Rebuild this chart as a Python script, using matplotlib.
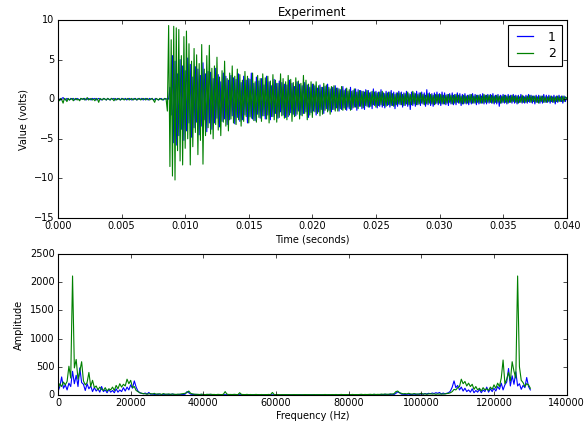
"""Experiment — two-channel time trace (top) and its amplitude spectrum (bottom)."""
import numpy as np
import matplotlib
matplotlib.use("Agg")
import matplotlib.pyplot as plt

# ---- time trace, volts, one sample every 0.1 ms from 0 to 0.04 s ----
T_END = 0.04
volts_1 = [
    0.1, 0.0, -0.1, 0.1, 0.2, 0.0, -0.1, 0.1, 0.0, -0.1, 0.1, 0.0, 0.1, -0.1, 0.0, 0.1, 0.0, -0.1, 0.1, 0.0,
    0.0, 0.1, -0.1, 0.0, 0.1, 0.0, -0.1, 0.1, 0.0, 0.1, -0.1, 0.0, 0.1, 0.0, -0.1, 0.0, 0.1, 0.0, -0.1, 0.1,
    0.0, -0.1, 0.1, 0.0, 0.1, -0.1, 0.0, 0.1, 0.0, -0.1, 0.1, 0.0, 0.0, 0.1, -0.1, 0.0, 0.1, 0.0, -0.1, 0.0,
    0.1, 0.0, -0.1, 0.1, 0.0, 0.0, 0.1, -0.1, 0.0, 0.1, 0.0, -0.1, 0.1, 0.0, 0.1, -0.1, 0.0, 0.1, 0.0, -0.1,
    0.0, 0.1, 0.0, -0.1, 0.1, 0.0, 0.1, 0.0, 1.5, -2.0, 5.5, -5.5, 4.8, -5.8, 3.2, -4.6, 5.0, -3.8, 4.2, -5.2,
    3.6, -4.0, 5.2, -3.0, 4.4, -4.8, 2.8, -3.6, 4.1, -2.9, 3.8, -4.5, 3.0, -3.4, 4.6, -2.6, 3.2, -4.1, 3.5, -3.0,
    3.4, -3.8, 2.6, -3.0, 3.9, -2.4, 3.1, -3.5, 2.2, -2.8, 3.3, -2.5, 2.9, -3.2, 2.4, -2.6, 3.0, -2.1, 2.7, -3.1,
    2.5, -2.3, 3.2, -2.8, 2.1, -2.6, 2.9, -2.0, 2.4, -3.0, 2.6, -2.2, 3.3, -2.5, 2.0, -2.7, 2.8, -1.9, 2.3, -2.4,
    2.6, -2.1, 1.8, -2.5, 2.9, -2.0, 2.2, -2.6, 1.7, -2.2, 2.5, -1.8, 2.0, -2.4, 2.3, -1.6, 2.1, -2.0, 1.9, -2.3,
    1.8, -2.2, 2.4, -1.7, 2.0, -1.9, 1.6, -2.1, 2.2, -1.5, 1.9, -2.0, 1.7, -1.8, 2.1, -1.6, 1.8, -2.3, 1.5, -1.7,
    1.9, -1.5, 1.7, -2.0, 1.4, -1.6, 1.8, -1.3, 1.5, -1.8, 1.6, -1.2, 1.9, -1.4, 1.3, -1.6, 1.5, -1.3, 1.7, -1.1,
    1.4, -1.5, 1.2, -1.3, 1.6, -1.1, 1.3, -1.4, 1.0, -1.2, 1.5, -1.3, 1.1, -1.0, 1.3, -1.4, 1.2, -0.9, 1.1, -1.2,
    1.0, -1.3, 1.2, -0.9, 1.1, -1.0, 0.9, -1.2, 1.3, -0.8, 1.0, -1.1, 0.9, -0.9, 1.2, -1.0, 0.8, -1.1, 1.0, -0.8,
    0.9, -1.0, 1.1, -0.8, 0.9, -1.2, 0.8, -0.9, 1.0, -0.7, 0.9, -1.0, 0.8, -0.8, 1.0, -0.9, 0.7, -1.3, 0.9, -0.8,
    0.8, -0.9, 1.0, -0.7, 0.8, -0.8, 0.9, -0.6, 0.8, -0.9, 1.2, -0.7, 0.8, -0.8, 0.7, -0.9, 0.8, -0.6, 0.9, -0.7,
    0.7, -0.8, 0.9, -0.6, 0.8, -0.7, 0.6, -0.8, 0.7, -0.6, 0.8, -0.7, 0.6, -0.7, 0.8, -0.5, 0.7, -0.8, 0.6, -0.6,
    0.7, -0.6, 0.5, -0.7, 0.6, -0.6, 0.7, -0.5, 0.6, -0.7, 0.5, -0.6, 0.6, -0.5, 0.7, -0.6, 0.5, -0.6, 0.6, -0.5,
    0.6, -0.5, 0.7, -0.6, 0.5, -0.6, 0.6, -0.9, 0.5, -0.5, 0.6, -0.5, 0.5, -0.6, 0.6, -0.4, 0.5, -0.5, 0.6, -0.5,
    0.5, -0.6, 0.5, -0.4, 0.6, -0.5, 0.4, -0.5, 0.5, -0.5, 0.6, -0.4, 0.5, -0.5, 0.4, -0.6, 0.5, -0.4, 0.5, -0.5,
    0.4, -0.5, 0.6, -0.4, 0.5, -0.4, 0.5, -0.5, 0.4, -0.4, 0.5, -0.6, 0.4, -0.4, 0.5, -0.3, 0.4, -0.5, 0.4, -0.3,
    0.2,
]
volts_2 = [
    0.0, -0.2, 0.1, -0.1, -0.5, 0.1, 0.0, -0.3, 0.1, -0.1, 0.0, 0.1, -0.2, 0.0, 0.1, -0.1, 0.0, -0.2, 0.1, 0.0,
    0.1, -0.1, 0.0, 0.2, -0.1, 0.0, 0.1, -0.1, 0.0, -0.2, 0.1, 0.0, -0.4, 0.1, 0.0, -0.1, 0.1, 0.0, -0.1, 0.1,
    0.0, -0.1, 0.1, 0.0, -0.2, 0.1, -0.1, 0.0, 0.1, -0.1, 0.0, 0.1, -0.1, 0.0, 0.0, 0.1, -0.1, 0.0, 0.1, -0.1,
    0.0, 0.1, -0.1, 0.0, 0.1, -0.1, 0.0, 0.1, 0.0, -0.1, 0.1, 0.0, -0.1, 0.0, 0.1, -0.1, -0.4, 0.1, 0.0, -0.1,
    0.1, 0.0, -0.1, 0.0, 0.1, 0.0, -1.5, 9.3, -8.5, 7.5, -9.7, 9.2, -10.2, 9.0, -6.5, 8.8, -7.8, 5.5, -8.3, 7.9,
    -6.2, 8.6, -5.0, 7.0, -8.3, 4.8, -6.0, 6.4, -4.2, 5.6, -7.0, 4.5, -5.2, 6.9, -8.2, 3.8, -4.6, 5.5, -3.6, 6.8,
    -4.4, 3.9, -5.0, 4.2, -3.2, 5.3, -3.9, 2.8, -4.6, 3.6, -2.9, 4.8, -3.4, 2.6, -4.0, 3.3, -2.5, 4.2, -3.0, 2.9,
    -3.2, 3.8, -2.6, 3.1, -3.4, 2.4, -2.8, 3.5, -2.2, 2.9, -3.0, 2.5, -2.4, 3.3, -2.7, 2.2, -2.9, 3.0, -2.3, 2.6,
    -2.8, 3.2, -2.1, 2.7, -2.5, 2.9, -3.0, 2.3, -2.2, 3.1, -2.6, 2.4, -2.9, 2.0, -2.3, 3.2, -2.1, 2.6, -2.4, 2.2,
    -2.6, 3.0, -2.0, 2.5, -2.8, 2.1, -2.2, 2.7, -1.9, 2.3, -2.5, 2.0, -2.1, 3.0, -1.8, 2.4, -2.6, 1.9, -2.0, 2.2,
    -2.3, 1.9, -1.6, 2.2, -1.8, 1.7, -2.1, 1.5, -1.9, 2.0, -1.4, 1.8, -1.6, 1.5, -1.9, 1.6, -1.3, 1.7, -1.5, 1.4,
    -1.5, 1.3, -1.2, 1.6, -1.4, 1.1, -1.3, 1.4, -1.0, 1.2, -1.4, 1.0, -1.1, 1.3, -1.0, 0.9, -1.2, 1.1, -0.9, 1.0,
    -1.1, 0.9, -0.8, 1.1, -1.0, 0.8, -0.9, 1.0, -0.7, 0.9, -1.0, 0.8, -0.8, 0.9, -0.7, 1.0, -0.8, 0.7, -0.9, 0.8,
    -0.7, 0.9, -0.8, 0.7, -0.9, 0.6, -0.7, 0.8, -0.6, 0.8, -0.7, 0.6, -0.8, 0.7, -0.6, 0.9, -0.7, 0.6, -0.7, 1.0,
    -0.6, 0.7, -0.7, 0.6, -0.6, 0.8, -0.5, 0.6, -0.7, 0.5, -0.6, 0.7, -0.5, 0.6, -0.6, 0.5, -0.7, 0.6, -0.5, 0.6,
    -0.5, 0.6, -0.6, 0.5, -0.6, 0.5, -0.5, 0.6, -0.4, 0.5, -0.6, 0.5, -0.5, 0.6, -0.4, 0.5, -0.5, 0.4, -0.6, 0.5,
    -0.5, 0.4, -0.5, 0.5, -0.4, 0.6, -0.5, 0.4, -0.5, 0.5, -0.4, 0.5, -0.5, 0.4, -0.5, 0.6, -0.4, 0.5, -0.4, 0.5,
    -0.4, 0.5, -0.5, 0.4, -0.4, 0.5, -0.4, 0.4, -0.5, 0.4, -0.4, 0.5, -0.4, 0.4, -0.5, 0.4, -0.4, 0.5, -0.3, 0.4,
    -0.4, 0.4, -0.5, 0.3, -0.4, 0.5, -0.4, 0.3, -0.4, 0.4, -0.3, 0.5, -0.4, 0.4, -0.3, 0.4, -0.4, 0.3, -0.5, 0.4,
    -0.3, 0.4, -0.4, 0.3, -0.4, 0.3, -0.3, 0.4, -0.3, 0.3, -0.4, 0.3, -0.3, 0.4, -0.3, 0.3, -0.3, 0.4, -0.3, 0.3,
    0.1,
]

# ---- amplitude spectrum, one bin every 500 Hz from 0 to 130 kHz ----
FREQ_STEP = 500
# low band 0 .. 25 kHz
amp_1_low = [60, 150, 320, 120, 180, 90, 210, 150, 420, 200, 350, 150, 480, 220, 190, 80, 200, 110, 160, 60,
             130, 70, 110, 50, 150, 60, 90, 40, 100, 50, 80, 40, 110, 50, 90, 60, 130, 70, 140, 90,
             180, 120, 250, 140, 70, 40, 30, 20, 35, 15, 45]
amp_2_low = [100, 200, 150, 230, 180, 240, 510, 300, 2110, 480, 630, 280, 420, 590, 250, 180, 220, 400, 150, 260,
             130, 160, 90, 140, 100, 80, 130, 70, 110, 90, 140, 80, 170, 110, 200, 140, 190, 160, 280, 200,
             260, 130, 150, 80, 60, 40, 30, 25, 20, 15, 20]
# quiet middle 25.5 .. 104.5 kHz
amp_1_mid = [12, 20, 8, 15, 10, 18, 6, 12, 9, 14, 7, 11, 16, 8, 10, 5, 12, 9, 7, 14,
             60, 40, 15, 10, 8, 12, 6, 9, 11, 5, 8, 7, 10, 6, 9, 5, 7, 8, 4, 6,
             8, 5, 7, 4, 6, 9, 5, 7, 4, 6, 5, 8, 4, 6, 5, 3, 7, 5, 4, 6,
             5, 4, 6, 3, 5, 4, 7, 3, 5, 4, 6, 3, 4, 5, 3, 6, 4, 3, 5, 4,
             3, 5, 4, 6, 3, 4, 5, 3, 4, 6, 3, 5, 4, 3, 5, 4, 6, 3, 5, 4,
             6, 4, 5, 3, 7, 4, 5, 6, 4, 7, 5, 4, 8, 5, 6, 4, 7, 5, 6, 8,
             5, 7, 6, 9, 5, 8, 6, 10, 7, 9, 12, 8, 10, 14, 9, 30, 55, 40, 15, 13,
             10, 12, 15, 9, 12, 15, 10, 18, 12, 20, 14, 25, 18, 30, 20, 35, 25, 40, 30]
amp_2_mid = [25, 15, 30, 12, 20, 18, 10, 25, 15, 12, 20, 10, 18, 14, 9, 16, 12, 20, 25, 30,
             45, 70, 30, 20, 15, 10, 12, 8, 14, 10, 7, 12, 9, 15, 8, 10, 6, 11, 9, 7,
             12, 60, 15, 8, 10, 7, 12, 9, 6, 40, 10, 8, 7, 11, 6, 9, 5, 8, 10, 7,
             6, 9, 5, 8, 7, 10, 6, 45, 8, 6, 9, 5, 7, 6, 8, 5, 7, 6, 5, 8,
             6, 5, 7, 4, 6, 8, 5, 7, 6, 4, 8, 5, 6, 7, 5, 6, 9, 5, 7, 6,
             8, 6, 9, 5, 7, 10, 6, 8, 7, 9, 6, 10, 7, 8, 6, 9, 12, 7, 10, 8,
             10, 12, 8, 14, 9, 11, 10, 15, 12, 18, 10, 14, 20, 15, 25, 60, 70, 40, 30, 20,
             25, 18, 30, 20, 15, 25, 18, 12, 20, 30, 15, 22, 12, 18, 25, 15, 20, 12, 18]
# high band 105 .. 130 kHz
amp_1_high = [45, 15, 35, 20, 30, 40, 70, 140, 250, 130, 170, 90, 140, 70, 120, 60, 90, 50, 110, 40,
              80, 50, 100, 40, 90, 60, 140, 50, 110, 60, 120, 70, 150, 100, 210, 90, 180, 230, 470, 160,
              340, 190, 410, 160, 200, 100, 170, 130, 310, 150, 90]
amp_2_high = [15, 20, 15, 20, 25, 30, 40, 60, 100, 90, 130, 150, 280, 200, 240, 160, 210, 150, 190, 100,
              150, 90, 120, 70, 130, 90, 110, 80, 140, 100, 180, 120, 210, 150, 300, 620, 200, 280, 400, 250,
              590, 420, 300, 2110, 500, 260, 220, 150, 200, 180, 120]

labels = ["1", "2"]
colors = ["b", "g"]


def main():
    plt.style.use("classic")
    plt.rcParams["font.family"] = "DejaVu Sans"

    v1 = np.array(volts_1)
    v2 = np.array(volts_2)
    t = np.linspace(0, T_END, len(v1))

    a1 = np.array(amp_1_low + amp_1_mid + amp_1_high, dtype=float)
    a2 = np.array(amp_2_low + amp_2_mid + amp_2_high, dtype=float)
    f = np.arange(len(a1)) * FREQ_STEP

    fig = plt.figure(figsize=(5.86, 4.25), dpi=100, facecolor="white")
    ax1 = fig.add_axes([0.099, 0.487, 0.868, 0.466])
    ax2 = fig.add_axes([0.099, 0.0706, 0.868, 0.3318])

    # top: time trace
    ax1.plot(t, v1, color=colors[0], lw=0.8, label=labels[0])
    ax1.plot(t, v2, color=colors[1], lw=0.8, label=labels[1])
    ax1.set_xlim(0, 0.04)
    ax1.set_ylim(-15, 10)
    ax1.set_xticks(np.arange(0, 0.0401, 0.005))
    ax1.set_xticklabels([f"{x:.3f}" for x in np.arange(0, 0.0401, 0.005)])
    ax1.set_yticks([-15, -10, -5, 0, 5, 10])
    ax1.set_title("Experiment", fontsize=8.5, pad=3)
    ax1.set_xlabel("Time (seconds)", fontsize=7, labelpad=2)
    ax1.set_ylabel("Value (volts)", fontsize=7, labelpad=4)
    leg = ax1.legend(loc="upper right", fontsize=9, handlelength=1.9,
                     borderpad=0.45, labelspacing=0.3, handletextpad=0.9,
                     borderaxespad=0.4)
    leg.get_frame().set_linewidth(0.8)
    for line in leg.get_lines():
        line.set_linewidth(0.9)

    # bottom: spectrum
    ax2.plot(f, a1, color=colors[0], lw=0.8)
    ax2.plot(f, a2, color=colors[1], lw=0.8)
    ax2.set_xlim(0, 140000)
    ax2.set_ylim(0, 2500)
    ax2.set_xticks(np.arange(0, 140001, 20000))
    ax2.set_yticks(np.arange(0, 2501, 500))
    ax2.set_xlabel("Frequency (Hz)", fontsize=7, labelpad=2)
    ax2.set_ylabel("Amplitude", fontsize=7, labelpad=4)

    for ax in (ax1, ax2):
        ax.tick_params(labelsize=7, length=3, pad=2.5)
        for s in ax.spines.values():
            s.set_linewidth(0.8)
        ax.set_facecolor("white")

    fig.savefig("out.png", dpi=100, facecolor="white")
    plt.close(fig)


if __name__ == "__main__":
    main()
